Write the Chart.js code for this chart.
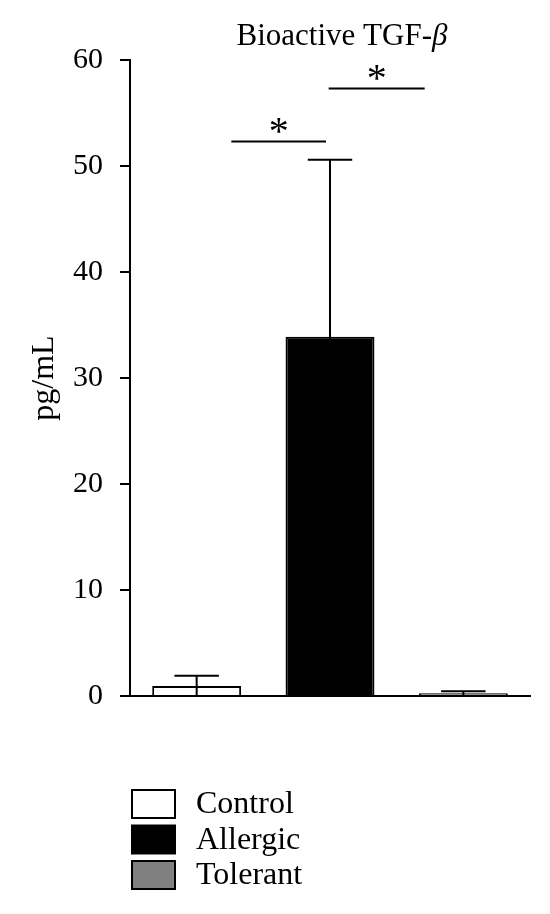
<!DOCTYPE html>
<html>
<head>
<meta charset="utf-8">
<script src="https://cdn.jsdelivr.net/npm/chart.js@4"></script>
<style>
  html, body { margin: 0; padding: 0; background: #fff; }
  #wrap { width: 550px; height: 914px; position: relative; }
</style>
</head>
<body>
<div id="wrap"><canvas id="chart"></canvas></div>
<script>
// bioactive TGF-beta, pg/mL
const categories = ['Control', 'Allergic', 'Tolerant'];
const means = [0.95, 33.9, 0.25];
const errUp = [0.95, 16.7, 0.2];
const barColors = ['#ffffff', '#000000', '#808080'];
const yMin = 0, yMax = 60, yStep = 10;
// significance brackets: fractional category positions and height in pg/mL
const sigFrom = [0.26, 0.99];
const sigTo = [0.97, 1.71];
const sigLevel = [52.3, 57.3];

const serif = "'Liberation Serif', 'DejaVu Serif', serif";

const extras = {
    id: 'extras',
    afterDatasetsDraw(chart) {
        const ctx = chart.ctx;
        const x = chart.scales.x, y = chart.scales.y;
        ctx.save();
        ctx.strokeStyle = '#000';
        ctx.lineWidth = 2;
        // error bars (upper only)
        means.forEach((m, i) => {
            const cx = x.getPixelForValue(i);
            const top = y.getPixelForValue(m + errUp[i]);
            const base = y.getPixelForValue(0);
            const bar = chart.getDatasetMeta(0).data[i];
            const cap = bar.width / 4;
            ctx.beginPath();
            ctx.moveTo(cx, base);
            ctx.lineTo(cx, top);
            ctx.moveTo(cx - cap, top);
            ctx.lineTo(cx + cap, top);
            ctx.stroke();
        });
        // significance
        ctx.fillStyle = '#000';
        ctx.font = '40px ' + serif;
        ctx.textAlign = 'center';
        ctx.textBaseline = 'alphabetic';
        sigLevel.forEach((lv, i) => {
            const x1 = x.getPixelForValue(sigFrom[i]);
            const x2 = x.getPixelForValue(sigTo[i]);
            const yy = y.getPixelForValue(lv);
            ctx.beginPath();
            ctx.moveTo(x1, yy);
            ctx.lineTo(x2, yy);
            ctx.stroke();
            ctx.fillText('*', (x1 + x2) / 2, yy + 2);
        });
        ctx.restore();
    },
    afterDraw(chart) {
        const ctx = chart.ctx;
        const area = chart.chartArea;
        ctx.save();
        // title with italic beta
        const part1 = 'Bioactive TGF-';
        const part2 = 'β';
        ctx.fillStyle = '#000';
        ctx.textBaseline = 'alphabetic';
        ctx.font = '31px ' + serif;
        const w1 = ctx.measureText(part1).width;
        ctx.font = 'italic 31px ' + serif;
        const w2 = ctx.measureText(part2).width;
        const cx = (area.left + area.right) / 2 + 12;
        const sx = cx - (w1 + w2) / 2;
        ctx.font = '31px ' + serif;
        ctx.fillText(part1, sx, 45);
        ctx.font = 'italic 31px ' + serif;
        ctx.fillText(part2, sx + w1, 45);

        // legend
        ctx.font = '32px ' + serif;
        ctx.textBaseline = 'middle';
        ctx.lineWidth = 2;
        categories.forEach((c, i) => {
            const top = 790 + i * 35.5;
            ctx.fillStyle = barColors[i];
            ctx.fillRect(132, top, 43, 28);
            ctx.strokeStyle = '#000';
            ctx.strokeRect(132, top, 43, 28);
            ctx.fillStyle = '#000';
            ctx.fillText(c, 196, top + 15);
        });
        ctx.restore();
    }
};

new Chart(document.getElementById('chart'), {
    type: 'bar',
    data: {
        labels: categories,
        datasets: [{
            data: means,
            backgroundColor: barColors,
            borderColor: '#000',
            borderWidth: 2,
            categoryPercentage: 1,
            barPercentage: 0.667
        }]
    },
    options: {
        responsive: true,
        maintainAspectRatio: false,
        animation: false,
        layout: { padding: { left: 0, top: 60, right: 20, bottom: 218 } },
        plugins: {
            legend: { display: false },
            tooltip: { enabled: false },
            title: { display: false }
        },
        scales: {
            x: {
                grid: { display: false },
                border: { display: true, color: '#000', width: 2 },
                ticks: { display: false },
                afterFit(scale) { scale.height = 0; }
            },
            y: {
                min: yMin,
                max: yMax,
                ticks: {
                    stepSize: yStep,
                    color: '#000',
                    padding: 17,
                    font: { family: serif, size: 30 }
                },
                grid: {
                    drawOnChartArea: false,
                    drawTicks: true,
                    tickLength: 10,
                    color: '#000',
                    lineWidth: 2
                },
                border: { display: true, color: '#000', width: 2 },
                title: {
                    display: true,
                    text: 'pg/mL',
                    color: '#000',
                    font: { family: serif, size: 32 },
                    padding: { top: 25, bottom: 0 }
                },
                afterFit(scale) { scale.width = 130; }
            }
        }
    },
    plugins: [extras]
});
</script>
</body>
</html>
